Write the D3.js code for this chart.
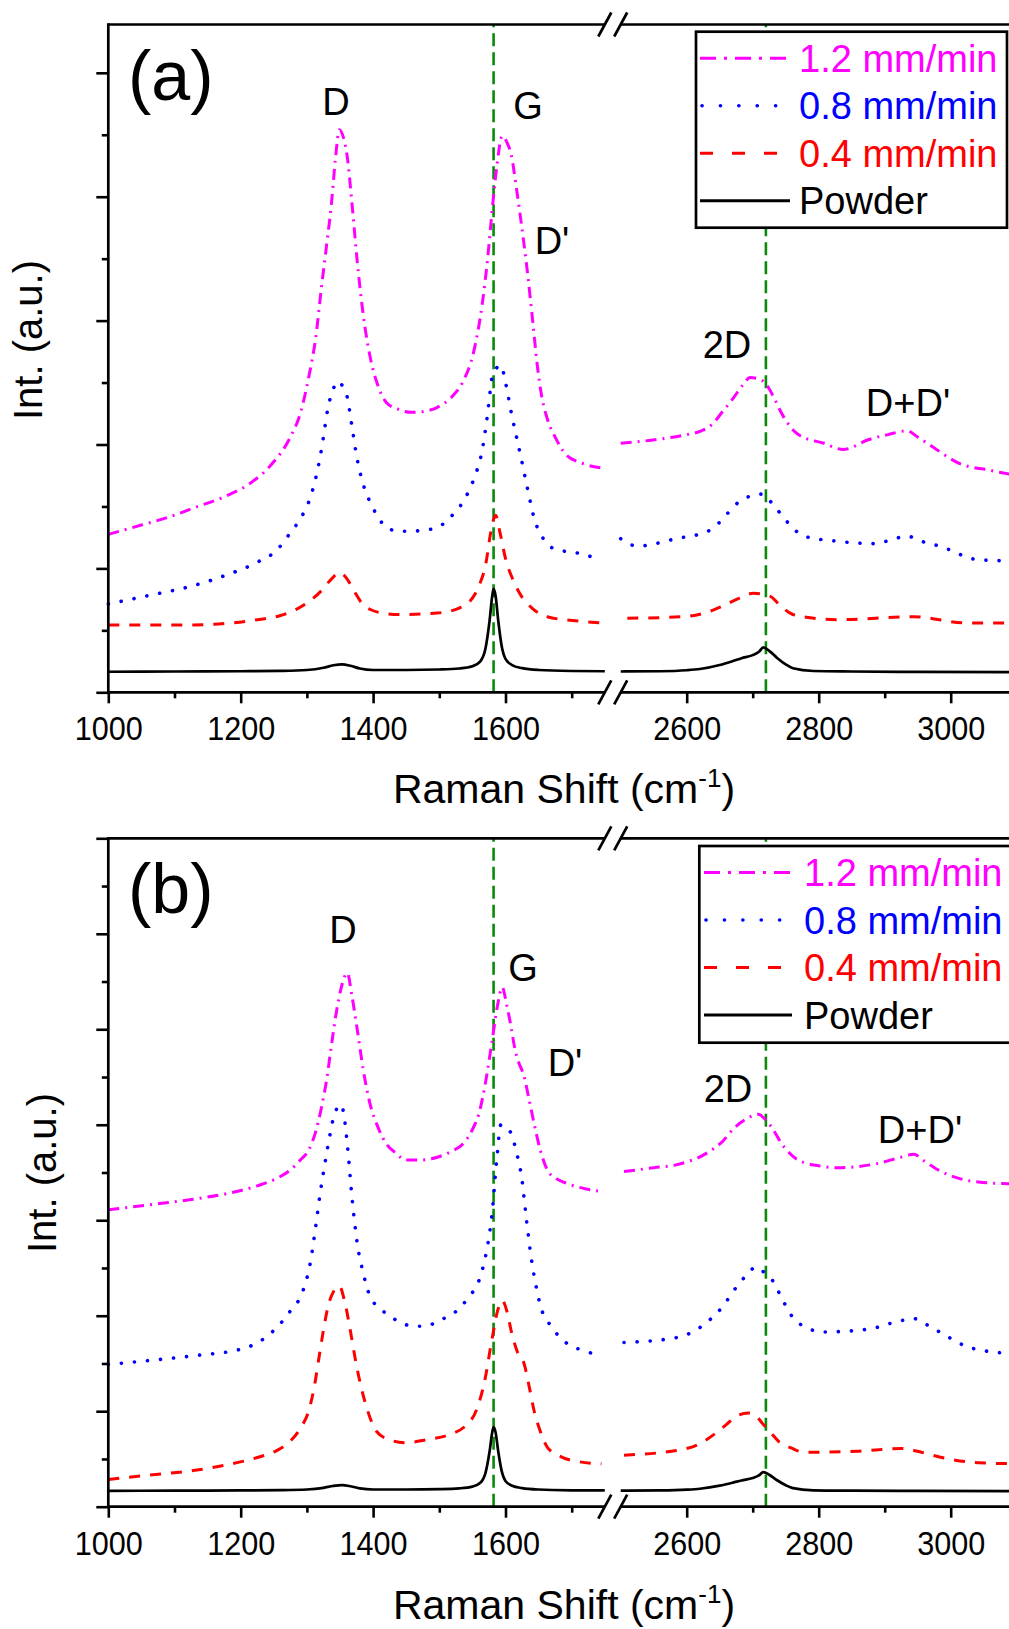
<!DOCTYPE html>
<html lang="en">
<head>
<meta charset="utf-8">
<title>Raman spectra</title>
<script src="https://d3js.org/d3.v7.min.js"></script>
<style>
body { margin: 0; background: #fff; }
svg text { font-family: "Liberation Sans", Arial, sans-serif; fill: #000; }
.axis path { display: none; }
.axis line { stroke: #000; stroke-width: 2.6; }
</style>
</head>
<body>
<svg id="chart" width="1009" height="1629"></svg>
<script>
// values: [Raman shift cm-1, intensity a.u.]
var seriesNames = ["1.2 mm/min", "0.8 mm/min", "0.4 mm/min", "Powder"];
var seriesColors = ["#ff00ff", "#0000ff", "#ff0000", "#000000"];
var xMajor = [1000, 1200, 1400, 1600, 2600, 2800, 3000];
var xMinor = [1100, 1300, 1500, 1700, 2700, 2900];
var peakLines = [1582, 2720];
var peakNames = ["D", "G", "D'", "2D", "D+D'"];

var powder = [[1000,0.166],[1100,0.168],[1200,0.170],[1260,0.173],[1300,0.180],[1325,0.198],[1340,0.218],[1353,0.226],[1366,0.214],[1380,0.192],[1400,0.180],[1450,0.180],[1500,0.184],[1530,0.192],[1550,0.210],[1562,0.250],[1570,0.360],[1576,0.580],[1580,0.780],[1582,0.834],[1585,0.780],[1589,0.580],[1594,0.380],[1600,0.270],[1610,0.220],[1625,0.195],[1650,0.180],[1700,0.172],[1750,0.170],
  [2500,0.168],[2560,0.170],[2600,0.178],[2620,0.188],[2650,0.220],[2670,0.252],[2683,0.275],[2700,0.300],[2710,0.330],[2716,0.363],[2725,0.335],[2737,0.277],[2750,0.225],[2761,0.194],[2792,0.172],[2850,0.168],[2950,0.165],[3100,0.162]];

var a12 = [[1000,1.275],[1050,1.35],[1089,1.41],[1130,1.49],[1176,1.58],[1215,1.69],[1245,1.83],[1274,2.05],[1290,2.25],[1303,2.55],[1313,2.85],[1322,3.27],[1330,3.62],[1337,3.94],[1343,4.30],[1349,4.54],[1355,4.48],[1361,4.32],[1368,3.95],[1376,3.48],[1385,3.05],[1395,2.72],[1407,2.48],[1420,2.34],[1440,2.28],[1458,2.26],[1480,2.27],[1497,2.30],[1518,2.38],[1536,2.51],[1552,2.75],[1565,3.14],[1573,3.50],[1580,3.90],[1587,4.25],[1595,4.49],[1602,4.44],[1609,4.33],[1617,4.05],[1624,3.78],[1634,3.35],[1641,3.00],[1648,2.64],[1655,2.38],[1663,2.21],[1676,2.05],[1691,1.92],[1715,1.85],[1745,1.81],
  [2500,2.01],[2554,2.04],[2600,2.08],[2622,2.11],[2640,2.17],[2652,2.25],[2670,2.37],[2685,2.48],[2696,2.54],[2708,2.53],[2720,2.49],[2732,2.38],[2744,2.25],[2756,2.15],[2769,2.08],[2808,2.01],[2837,1.96],[2876,2.04],[2905,2.08],[2934,2.11],[2950,2.06],[2973,1.98],[3012,1.85],[3061,1.79],[3100,1.75]];

var a08 = [[1000,0.713],[1060,0.78],[1128,0.86],[1180,0.95],[1225,1.05],[1255,1.15],[1274,1.28],[1290,1.40],[1303,1.54],[1313,1.72],[1322,1.96],[1332,2.30],[1340,2.45],[1347,2.51],[1354,2.47],[1361,2.38],[1368,2.15],[1376,1.88],[1385,1.68],[1395,1.54],[1407,1.42],[1420,1.33],[1440,1.30],[1458,1.30],[1478,1.31],[1497,1.33],[1518,1.42],[1536,1.54],[1552,1.72],[1565,1.96],[1573,2.25],[1580,2.55],[1587,2.62],[1593,2.64],[1600,2.50],[1609,2.25],[1617,2.05],[1624,1.88],[1633,1.65],[1643,1.41],[1656,1.25],[1673,1.16],[1712,1.12],[1745,1.07],
  [2500,1.24],[2525,1.18],[2584,1.24],[2632,1.30],[2655,1.40],[2671,1.50],[2690,1.57],[2715,1.60],[2730,1.52],[2744,1.43],[2760,1.33],[2778,1.26],[2827,1.22],[2886,1.20],[2915,1.24],[2934,1.26],[2955,1.22],[2983,1.18],[3042,1.07],[3100,1.06]];

var a04 = [[1000,0.544],[1128,0.544],[1225,0.586],[1260,0.62],[1284,0.67],[1305,0.74],[1322,0.82],[1338,0.92],[1349,0.966],[1360,0.92],[1371,0.82],[1383,0.72],[1395,0.67],[1420,0.635],[1439,0.628],[1497,0.64],[1530,0.68],[1546,0.733],[1560,0.86],[1570,1.03],[1578,1.30],[1585,1.43],[1592,1.28],[1600,1.08],[1612,0.90],[1624,0.776],[1640,0.68],[1663,0.61],[1712,0.574],[1745,0.56],
  [2510,0.598],[2594,0.61],[2630,0.645],[2652,0.69],[2680,0.76],[2701,0.80],[2726,0.776],[2742,0.70],[2760,0.63],[2790,0.60],[2827,0.586],[2944,0.61],[3022,0.56],[3100,0.56]];

var b12 = [[1000,3.11],[1060,3.16],[1128,3.22],[1180,3.28],[1225,3.36],[1255,3.44],[1274,3.52],[1290,3.63],[1303,3.74],[1313,3.92],[1322,4.18],[1330,4.48],[1337,4.83],[1345,5.20],[1352,5.44],[1361,5.59],[1368,5.35],[1376,5.00],[1385,4.58],[1395,4.23],[1407,3.98],[1420,3.80],[1435,3.70],[1449,3.63],[1470,3.63],[1497,3.66],[1518,3.72],[1536,3.80],[1550,3.95],[1560,4.12],[1570,4.45],[1580,4.89],[1588,5.25],[1595,5.44],[1602,5.25],[1609,5.00],[1614,4.80],[1619,4.67],[1628,4.51],[1636,4.25],[1643,4.02],[1652,3.75],[1663,3.53],[1676,3.44],[1691,3.39],[1720,3.33],[1745,3.30],
  [2505,3.51],[2550,3.55],[2584,3.58],[2632,3.71],[2655,3.83],[2671,3.96],[2690,4.06],[2708,4.11],[2720,4.05],[2730,3.96],[2744,3.80],[2769,3.63],[2800,3.57],[2827,3.55],[2886,3.59],[2920,3.65],[2944,3.69],[2960,3.62],[2983,3.52],[3042,3.40],[3100,3.38]];

var b08 = [[1000,1.49],[1060,1.53],[1128,1.58],[1206,1.66],[1235,1.76],[1255,1.88],[1275,2.05],[1294,2.26],[1305,2.55],[1313,2.92],[1320,3.28],[1328,3.63],[1335,3.90],[1342,4.12],[1352,4.21],[1356,4.10],[1361,3.80],[1368,3.25],[1376,2.76],[1385,2.45],[1395,2.21],[1415,2.05],[1439,1.94],[1460,1.89],[1478,1.89],[1500,1.95],[1526,2.05],[1545,2.20],[1560,2.37],[1572,2.70],[1580,3.09],[1587,3.65],[1593,4.00],[1600,3.98],[1609,3.90],[1617,3.70],[1624,3.47],[1631,3.05],[1638,2.65],[1645,2.35],[1653,2.10],[1670,1.88],[1691,1.72],[1720,1.63],[1745,1.58],
  [2505,1.72],[2584,1.77],[2632,1.94],[2655,2.10],[2671,2.26],[2690,2.42],[2705,2.51],[2718,2.45],[2730,2.37],[2745,2.17],[2760,1.99],[2780,1.88],[2808,1.83],[2876,1.86],[2920,1.94],[2944,1.97],[2960,1.92],[2983,1.83],[3032,1.66],[3100,1.60]];

var b04 = [[1000,0.285],[1060,0.33],[1128,0.378],[1180,0.44],[1225,0.515],[1255,0.59],[1274,0.68],[1290,0.82],[1303,1.01],[1311,1.25],[1318,1.55],[1325,1.85],[1332,2.10],[1340,2.25],[1349,2.31],[1357,2.15],[1366,1.83],[1373,1.55],[1381,1.28],[1392,1.00],[1405,0.79],[1425,0.70],[1449,0.67],[1480,0.70],[1517,0.76],[1540,0.85],[1556,1.01],[1568,1.30],[1580,1.77],[1588,2.05],[1595,2.16],[1602,2.05],[1609,1.83],[1618,1.62],[1628,1.50],[1636,1.25],[1643,1.01],[1652,0.80],[1663,0.625],[1685,0.52],[1712,0.47],[1745,0.45],
  [2505,0.54],[2594,0.60],[2620,0.66],[2642,0.76],[2660,0.86],[2676,0.95],[2693,0.98],[2705,0.95],[2715,0.87],[2728,0.77],[2740,0.68],[2760,0.61],[2778,0.57],[2857,0.58],[2925,0.61],[2950,0.58],[2983,0.52],[3042,0.46],[3100,0.45]];

var yMajorA = [0, 1, 2, 3, 4, 5], yMinorA = [0.5, 1.5, 2.5, 3.5, 4.5];
var yMajorB = [0, 1, 2, 3, 4, 5, 6, 7], yMinorB = [0.5, 1.5, 2.5, 3.5, 4.5, 5.5, 6.5];

// line styles (curve dash, legend dash); blue is round dots
var curveDash = ["11,6,2,6", "0.1,13", "11,10", null];
var legendDash = ["16,8,3,8", "0.1,18.3", "13,19", null];

var svg = d3.select("#chart");

// broken x axis: two linear pieces
var xL = d3.scaleLinear().domain([1000, 1750]).range([108.3, 604.8]);
var xR = d3.scaleLinear().domain([2500, 3100]).range([620.7, 1016.7]);
function xs(v) { return v < 2000 ? xL : xR }

var panels = [
  { tag: "(a)", top: 24.5, bottom: 692.3, ymax: 5.39, yMajor: yMajorA, yMinor: yMinorA,
    series: [a12, a08, a04, powder], tagY: 100, ylab: [42, 340], titleY: 803,
    legend: { x: 696, y: 31.7, w: 311, h: 196, lx: 700, lw: 90, tx: 799 },
    peaks: [[336, 115], [528, 119], [552, 254], [727, 358], [908, 416]] },
  { tag: "(b)", top: 838.3, bottom: 1506.7, ymax: 7, yMajor: yMajorB, yMinor: yMinorB,
    series: [b12, b08, b04, powder], tagY: 913, ylab: [55.5, 1173], titleY: 1619,
    legend: { x: 699.3, y: 846, w: 320, h: 196.7, lx: 704, lw: 88, tx: 804 },
    peaks: [[343, 943], [523, 981], [565, 1076], [728, 1102], [920, 1143]] }
];

panels.forEach(function(p) {
  var y = d3.scaleLinear().domain([0, p.ymax]).range([p.bottom, p.top]);
  var g = svg.append("g");

  // green reference lines
  g.selectAll(".ref").data(peakLines).enter().append("line")
    .attr("x1", function(d) { return xs(d)(d) }).attr("x2", function(d) { return xs(d)(d) })
    .attr("y1", p.bottom).attr("y2", p.top)
    .attr("stroke", "#0a8a0a").attr("stroke-width", 2.6).attr("stroke-dasharray", "13,6");

  // spectra, drawn per axis segment
  var line = function(sc) {
    return d3.line().x(function(d) { return sc(d[0]) }).y(function(d) { return y(d[1]) }).curve(d3.curveMonotoneX);
  };
  p.series.forEach(function(s, i) {
    [[s.filter(function(d) { return d[0] <= 1750 }), xL],
     [s.filter(function(d) { return d[0] >= 2500 }), xR]].forEach(function(part) {
      g.append("path").datum(part[0])
        .attr("d", line(part[1]))
        .attr("fill", "none")
        .attr("stroke", seriesColors[i])
        .attr("stroke-width", i == 3 ? 2.7 : (i == 1 ? 3.6 : 3))
        .attr("stroke-linecap", i == 1 ? "round" : "butt")
        .attr("stroke-dasharray", curveDash[i]);
    });
  });

  // axes
  [xL, xR].forEach(function(sc) {
    var dom = sc.domain();
    var inDom = function(v) { return v >= dom[0] && v <= dom[1] };
    var maj = g.append("g").attr("class", "axis").attr("transform", "translate(0," + p.bottom + ")")
      .call(d3.axisBottom(sc).tickValues(xMajor.filter(inDom)).tickSize(11).tickSizeOuter(0).tickFormat(d3.format("d")));
    maj.selectAll("text")
      .attr("y", null).attr("dy", null)
      .attr("transform", "translate(0,48) scale(0.9,1)")
      .style("font-size", "34px");
    g.append("g").attr("class", "axis").attr("transform", "translate(0," + p.bottom + ")")
      .call(d3.axisBottom(sc).tickValues(xMinor.filter(inDom)).tickSize(6).tickSizeOuter(0).tickFormat(""));
  });
  g.append("g").attr("class", "axis").attr("transform", "translate(" + xL(1000) + ",0)")
    .call(d3.axisLeft(y).tickValues(p.yMajor).tickSize(12).tickSizeOuter(0).tickFormat(""));
  g.append("g").attr("class", "axis").attr("transform", "translate(" + xL(1000) + ",0)")
    .call(d3.axisLeft(y).tickValues(p.yMinor).tickSize(6.5).tickSizeOuter(0).tickFormat(""));

  // frame with axis break
  var fr = g.append("g").attr("stroke", "#000").attr("stroke-width", 2.7).attr("fill", "none");
  fr.append("line").attr("x1", xL(1000)).attr("x2", xL(1000)).attr("y1", p.top - 1.3).attr("y2", p.bottom + 1.3);
  [p.top, p.bottom].forEach(function(yy) {
    fr.append("line").attr("x1", xL(1000)).attr("x2", xL(1750)).attr("y1", yy).attr("y2", yy);
    fr.append("line").attr("x1", xR(2500)).attr("x2", 1012).attr("y1", yy).attr("y2", yy);
    [xL(1750), xR(2500)].forEach(function(bx) {
      fr.append("line").attr("x1", bx - 6.5).attr("x2", bx + 6.5).attr("y1", yy + 12).attr("y2", yy - 12);
    });
  });

  // legend
  var L = p.legend;
  var lg = g.append("g");
  lg.append("rect").attr("x", L.x).attr("y", L.y).attr("width", L.w).attr("height", L.h)
    .attr("fill", "#fff").attr("stroke", "#000").attr("stroke-width", 2.7);
  var rows = [26.5, 74, 121.5, 169];
  seriesNames.forEach(function(name, i) {
    var ry = L.y + rows[i];
    lg.append("line").attr("x1", L.lx + (i == 1 ? 2 : 0)).attr("x2", L.lx + L.lw).attr("y1", ry).attr("y2", ry)
      .attr("stroke", seriesColors[i]).attr("stroke-width", i == 1 ? 3.6 : 3)
      .attr("stroke-linecap", i == 1 ? "round" : "butt")
      .attr("stroke-dasharray", legendDash[i]);
    lg.append("text").attr("x", L.tx).attr("y", ry + 13.5)
      .style("font-size", "38px").style("fill", seriesColors[i]).text(name);
  });

  // panel tag and peak names
  g.append("text").attr("x", 128).attr("y", p.tagY).style("font-size", "70px").text(p.tag);
  g.selectAll(".peak").data(peakNames).enter().append("text")
    .attr("x", function(d, i) { return p.peaks[i][0] })
    .attr("y", function(d, i) { return p.peaks[i][1] })
    .attr("text-anchor", "middle").style("font-size", "38px")
    .text(function(d) { return d });

  // axis titles
  var xt = g.append("text").attr("x", 564).attr("y", p.titleY).attr("text-anchor", "middle").style("font-size", "41px");
  xt.append("tspan").text("Raman Shift (cm");
  xt.append("tspan").attr("dy", -16).style("font-size", "26px").text("-1");
  xt.append("tspan").attr("dy", 16).text(")");
  g.append("text")
    .attr("transform", "translate(" + p.ylab[0] + "," + p.ylab[1] + ") rotate(-90)")
    .attr("text-anchor", "middle").style("font-size", "40px").text("Int. (a.u.)");
});
</script>
</body>
</html>
